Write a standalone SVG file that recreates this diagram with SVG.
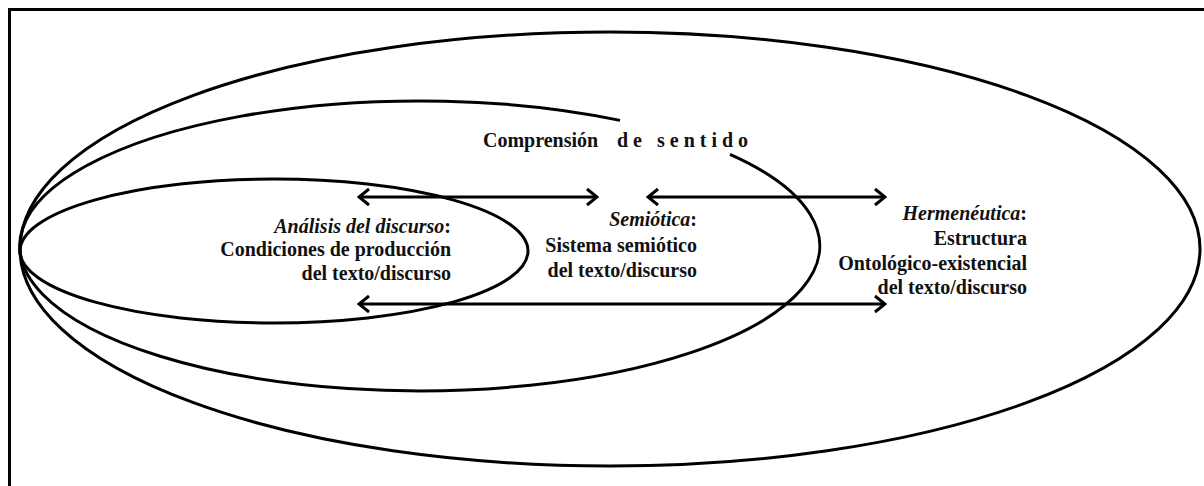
<svg xmlns="http://www.w3.org/2000/svg" width="1204" height="486" viewBox="0 0 1204 486">
<style>
.ln{fill:none;stroke:#000;stroke-width:3}
.t{font-family:"Liberation Serif","Times New Roman",serif;font-size:20px;font-weight:bold;fill:#111}
.i{font-style:italic}
</style>
<defs>
<marker id="ah" viewBox="0 0 14 20" refX="12" refY="10" markerWidth="14" markerHeight="20" markerUnits="userSpaceOnUse" orient="auto-start-reverse">
<path d="M2 2 L12 10 L2 18" fill="none" stroke="#000" stroke-width="3"/>
</marker>
</defs>
<rect width="1204" height="486" fill="#fff"/>
<path id="frame" class="ln" d="M9.5 486 V9.5 H1204"/>
<g id="hermeneutica">
<ellipse class="ln" cx="610" cy="249" rx="590" ry="217"/>
<text class="t" text-anchor="end"><tspan x="1027" y="220"><tspan class="i">Hermenéutica</tspan>:</tspan><tspan x="1027" y="245">Estructura</tspan><tspan x="1027" y="270">Ontológico-existencial</tspan><tspan x="1027" y="294">del texto/discurso</tspan></text>
</g>
<g id="comprension">
<path class="ln" d="M620 120.4 A400 145 0 1 0 730 154.4"/>
<text class="t" x="483" y="147">Comprensión<tspan x="617" letter-spacing="5">de sentido</tspan></text>
</g>
<g id="semiotica">
<text class="t" text-anchor="end"><tspan x="697" y="226"><tspan class="i">Semiótica</tspan>:</tspan><tspan x="697" y="252">Sistema semiótico</tspan><tspan x="697" y="277">del texto/discurso</tspan></text>
</g>
<g id="analisis">
<ellipse class="ln" cx="274" cy="251" rx="254" ry="72"/>
<text class="t" text-anchor="end"><tspan x="451" y="233"><tspan class="i">Análisis del discurso</tspan>:</tspan><tspan x="451" y="256">Condiciones de producción</tspan><tspan x="451" y="280">del texto/discurso</tspan></text>
</g>
<g id="connectors">
<line class="ln" x1="359" y1="197" x2="597" y2="197" marker-start="url(#ah)" marker-end="url(#ah)"/>
<line class="ln" x1="648" y1="197" x2="885" y2="197" marker-start="url(#ah)" marker-end="url(#ah)"/>
<line class="ln" x1="359" y1="304" x2="885" y2="304" marker-start="url(#ah)" marker-end="url(#ah)"/>
</g>
</svg>
